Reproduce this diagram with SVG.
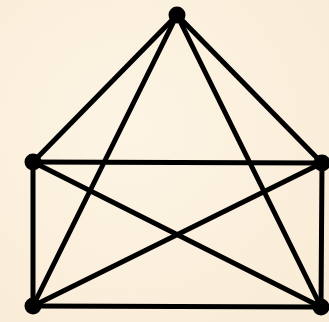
<svg xmlns="http://www.w3.org/2000/svg" width="329" height="322" viewBox="0 0 329 322">
<style>
.e{stroke:#000;stroke-width:5;stroke-linecap:round}
.v{fill:#000}
</style>
<defs>
<radialGradient id="bg" cx="0.4" cy="0.4" r="0.8">
<stop offset="0" stop-color="#fdf4e4"/>
<stop offset="1" stop-color="#f9ecd6"/>
</radialGradient>
</defs>
<rect width="329" height="322" fill="url(#bg)"/>
<g id="connectors">
<line class="e" x1="177" y1="15" x2="33" y2="162"/>
<line class="e" x1="177" y1="15" x2="322" y2="163"/>
<line class="e" x1="177" y1="15" x2="33" y2="306"/>
<line class="e" x1="177" y1="15" x2="321" y2="307"/>
<line class="e" x1="33" y1="162" x2="322" y2="163"/>
<line class="e" x1="33" y1="162" x2="33" y2="306"/>
<line class="e" x1="33" y1="162" x2="321" y2="307"/>
<line class="e" x1="322" y1="163" x2="33" y2="306"/>
<line class="e" x1="322" y1="163" x2="321" y2="307"/>
<line class="e" x1="33" y1="306" x2="321" y2="307"/>
</g>
<g id="n1"><circle class="v" cx="177" cy="15" r="8.5"/></g>
<g id="n2"><circle class="v" cx="33" cy="162" r="8.5"/></g>
<g id="n3"><circle class="v" cx="322" cy="163" r="8.5"/></g>
<g id="n4"><circle class="v" cx="33" cy="306" r="8.5"/></g>
<g id="n5"><circle class="v" cx="321" cy="307" r="8.5"/></g>
</svg>
